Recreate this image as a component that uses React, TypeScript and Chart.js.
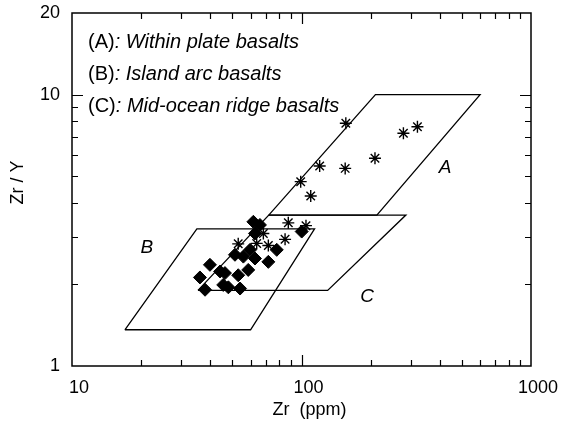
import React, { useEffect, useRef } from "react";
import { Chart, registerables } from "chart.js";
Chart.register(...registerables);

// ---- data ----
const xTickValues = [10, 100, 1000];
const yTickValues = [1, 10, 20];
const xMinorTicks = [20, 30, 40, 50, 60, 70, 80, 90, 200, 300, 400, 500, 600, 700, 800, 900];
const xMajorInner = [100];
const yMinorTicks = [2, 3, 4, 5, 6, 7, 8, 9];
const yMajorInner = [10];

// field boundaries (Zr ppm, Zr/Y)
const fieldAZr = [72, 210, 600, 213, 72];
const fieldAZrY = [3.6, 10, 10, 3.6, 3.6];
const fieldBZr = [17, 35, 114, 60, 17];
const fieldBZrY = [1.36, 3.2, 3.2, 1.36, 1.36];
const fieldCZr = [35.4, 72, 285, 130, 35.4];
const fieldCZrY = [1.9, 3.6, 3.6, 1.9, 1.9];

const fieldLabels = ["A", "B", "C"];
const fieldLabelZr = [422, 21.2, 193];
const fieldLabelZrY = [5.37, 2.72, 1.8];

const legendKeys = ["(A)", "(B)", "(C)"];
const legendNames = [": Within plate basalts", ": Island arc basalts", ": Mid-ocean ridge basalts"];

// samples
const diamondZr = [61.7, 65.9, 62.7, 100.2, 78.0, 51.3, 55.8, 59.7, 62.7, 71.7, 39.9, 44.2, 46.4, 36.1, 53.0, 58.6, 38.0, 45.6, 48.0, 54.0];
const diamondZrY = [3.40, 3.31, 3.08, 3.13, 2.68, 2.57, 2.53, 2.68, 2.49, 2.42, 2.36, 2.23, 2.20, 2.12, 2.16, 2.26, 1.91, 1.99, 1.95, 1.93];
const starZr = [156, 278, 320, 120, 155, 209, 99.2, 109.7, 87.6, 104.6, 84.8, 71.7, 63.8, 53.0, 68.2];
const starZrY = [7.85, 7.21, 7.62, 5.46, 5.35, 5.83, 4.78, 4.23, 3.37, 3.29, 2.93, 2.78, 2.83, 2.82, 3.08];

const xTitle = "Zr  (ppm)";
const yTitle = "Zr / Y";

const FONT = "'Liberation Sans', Arial, Helvetica, sans-serif";

const zip = (xs: number[], ys: number[]) => xs.map((x, i) => ({ x, y: ys[i] }));

const decorPlugin = {
  id: "decor",
  afterDatasetsDraw(chart: any) {
    const { ctx, chartArea } = chart;
    const { left, right, top, bottom } = chartArea;
    const xs = chart.scales.x;
    const ys = chart.scales.y;
    ctx.save();
    ctx.strokeStyle = "#000";
    ctx.fillStyle = "#000";
    ctx.lineWidth = 1.5;
    ctx.strokeRect(left, top, right - left, bottom - top);
    ctx.lineWidth = 1.2;
    const tickX = (v: number, len: number) => {
      const p = Math.round(xs.getPixelForValue(v)) + 0.5;
      ctx.beginPath();
      ctx.moveTo(p, bottom);
      ctx.lineTo(p, bottom - len);
      ctx.moveTo(p, top);
      ctx.lineTo(p, top + len);
      ctx.stroke();
    };
    const tickY = (v: number, len: number) => {
      const p = Math.round(ys.getPixelForValue(v)) + 0.5;
      ctx.beginPath();
      ctx.moveTo(left, p);
      ctx.lineTo(left + len, p);
      ctx.moveTo(right, p);
      ctx.lineTo(right - len, p);
      ctx.stroke();
    };
    xMinorTicks.forEach((v) => tickX(v, 6));
    xMajorInner.forEach((v) => tickX(v, 11));
    yMinorTicks.forEach((v) => tickY(v, 6));
    yMajorInner.forEach((v) => tickY(v, 11));

    // field labels
    ctx.font = `italic 19px ${FONT}`;
    ctx.textAlign = "center";
    ctx.textBaseline = "middle";
    fieldLabels.forEach((t, i) => {
      ctx.fillText(t, xs.getPixelForValue(fieldLabelZr[i]), ys.getPixelForValue(fieldLabelZrY[i]));
    });

    // legend text
    ctx.textAlign = "left";
    legendKeys.forEach((k, i) => {
      const x0 = left + 16;
      const y0 = top + 29 + i * 32;
      ctx.font = `20px ${FONT}`;
      ctx.fillText(k, x0, y0);
      const w = ctx.measureText(k).width;
      ctx.font = `italic 20px ${FONT}`;
      ctx.fillText(legendNames[i], x0 + w, y0);
    });

    // axis titles
    ctx.font = `18px ${FONT}`;
    ctx.textAlign = "center";
    ctx.fillText(xTitle, (left + right) / 2 + 8, bottom + 44);
    ctx.translate(18, (top + bottom) / 2 - 7);
    ctx.rotate(-Math.PI / 2);
    ctx.fillText(yTitle, 0, 0);
    ctx.restore();
  },
};

export default function App() {
  const ref = useRef<HTMLCanvasElement | null>(null);
  useEffect(() => {
    if (!ref.current) return;
    const polyStyle = {
      showLine: true,
      borderColor: "#000",
      borderWidth: 1.3,
      pointRadius: 0,
      fill: false,
      tension: 0,
    };
    const chart = new Chart(ref.current, {
      type: "scatter",
      data: {
        datasets: [
          {
            data: zip(starZr, starZrY),
            pointStyle: "star",
            pointRadius: 6,
            borderColor: "#000",
            backgroundColor: "#000",
            borderWidth: 1.4,
          } as any,
          {
            data: zip(diamondZr, diamondZrY),
            pointStyle: "rectRot",
            pointRadius: 6.5,
            borderColor: "#000",
            backgroundColor: "#000",
            borderWidth: 1,
          } as any,
          { data: zip(fieldAZr, fieldAZrY), ...polyStyle } as any,
          { data: zip(fieldBZr, fieldBZrY), ...polyStyle } as any,
          { data: zip(fieldCZr, fieldCZrY), ...polyStyle } as any,
        ],
      },
      options: {
        responsive: false,
        animation: false,
        devicePixelRatio: 1,
        layout: { padding: { left: 0, right: 43, top: 13, bottom: 0 } },
        plugins: { legend: { display: false }, tooltip: { enabled: false } },
        scales: {
          x: {
            type: "logarithmic",
            min: 10,
            max: 1000,
            grid: { display: false, drawTicks: false },
            border: { display: false },
            afterBuildTicks: (s: any) => {
              s.ticks = xTickValues.map((v) => ({ value: v }));
            },
            afterFit: (s: any) => {
              s.height = 56;
              s.paddingLeft = 0;
              s.paddingRight = 0;
            },
            ticks: {
              autoSkip: false,
              maxRotation: 0,
              padding: 11,
              labelOffset: 7,
              color: "#000",
              font: { size: 18, family: FONT },
              callback: (v: any) => String(v),
            },
          },
          y: {
            type: "logarithmic",
            min: 1,
            max: 20,
            grid: { display: false, drawTicks: false },
            border: { display: false },
            afterBuildTicks: (s: any) => {
              s.ticks = yTickValues.map((v) => ({ value: v }));
            },
            afterFit: (s: any) => {
              s.width = 72;
              s.paddingTop = 0;
              s.paddingBottom = 0;
            },
            ticks: {
              autoSkip: false,
              padding: 12,
              color: "#000",
              font: { size: 18, family: FONT },
              callback: (v: any) => String(v),
            },
          },
        },
      } as any,
      plugins: [decorPlugin],
    });
    return () => chart.destroy();
  }, []);
  return (
    <div style={{ position: "fixed", left: 0, top: 0, width: 574, height: 422, background: "#fff" }}>
      <canvas ref={ref} width={574} height={422} style={{ display: "block" }} />
    </div>
  );
}
